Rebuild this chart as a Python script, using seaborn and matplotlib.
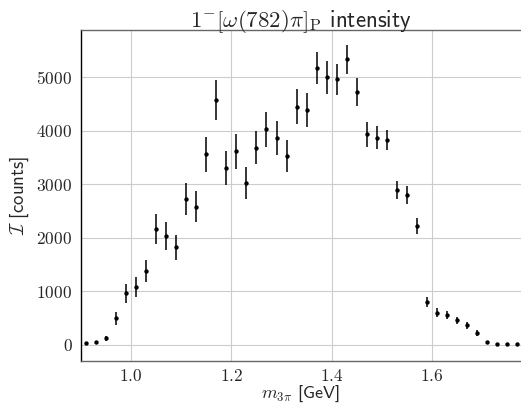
import numpy as np
import pandas as pd
import matplotlib
matplotlib.use("Agg")
import matplotlib.pyplot as plt
import seaborn as sns

# bin centres of the 3pi mass [GeV]
mass = [0.91, 0.93, 0.95, 0.97, 0.99, 1.01, 1.03, 1.05, 1.07, 1.09,
        1.11, 1.13, 1.15, 1.17, 1.19, 1.21, 1.23, 1.25, 1.27, 1.29,
        1.31, 1.33, 1.35, 1.37, 1.39, 1.41, 1.43, 1.45, 1.47, 1.49,
        1.51, 1.53, 1.55, 1.57, 1.59, 1.61, 1.63, 1.65, 1.67, 1.69,
        1.71, 1.73, 1.75, 1.77]

intensity = [26, 45, 120, 493, 961, 1084, 1378, 2163, 2032, 1821,
             2718, 2579, 3559, 4568, 3303, 3621, 3022, 3682, 4026, 3858,
             3527, 4449, 4387, 5166, 4998, 4961, 5335, 4723, 3938, 3869,
             3826, 2892, 2793, 2224, 793, 598, 550, 456, 363, 213,
             45, 8, 5, 5]

error = [20, 30, 50, 118, 181, 187, 206, 280, 262, 234,
         300, 293, 333, 374, 312, 327, 293, 312, 327, 318,
         305, 331, 318, 299, 308, 286, 265, 256, 234, 219,
         193, 168, 168, 150, 93, 84, 75, 70, 60, 55,
         25, 10, 5, 5]

xticks = [1.0, 1.2, 1.4, 1.6]
yticks = [0, 1000, 2000, 3000, 4000, 5000]

df = pd.DataFrame({"m": mass, "I": intensity, "err": error})

sns.set_style("whitegrid", {"grid.color": "#cccccc", "axes.edgecolor": "black"})
plt.rcParams["mathtext.fontset"] = "cm"
plt.rcParams["font.family"] = ["cmss10", "DejaVu Sans"]
plt.rcParams["axes.formatter.use_mathtext"] = True

fig = plt.figure(figsize=(5.21, 4.08), dpi=100)
ax = fig.add_axes([0.155, 0.115, 0.845, 0.8113])

ax.errorbar(df["m"], df["I"], yerr=df["err"], fmt="none", ecolor="black",
            elinewidth=1.1, capsize=0, zorder=3)
sns.scatterplot(data=df, x="m", y="I", color="black", s=10, linewidth=0,
                ax=ax, zorder=4)

ax.set_xlim(0.9, 1.777)
ax.set_ylim(-305, 5882)
ax.set_xticks(xticks)
ax.set_xticklabels([r"$%.1f$" % t for t in xticks])
ax.set_yticks(yticks)
ax.set_yticklabels([r"$%d$" % t for t in yticks])
ax.tick_params(axis="both", labelsize=12.5, length=3, width=1, color="#666666", pad=3)
ax.tick_params(axis="x", pad=2)

ax.set_xlabel(r"$m_{3\pi}$ [GeV]", fontsize=13, labelpad=0)
ax.set_ylabel(r"$\mathcal{I}$ [counts]", fontsize=13.5, labelpad=4)
ax.set_title(r"$1^{-}[\omega(782)\pi]_{\mathrm{P}}$ intensity", fontsize=16.5, pad=2)

ax.spines["left"].set_color("black")
for side in ["bottom", "top"]:
    ax.spines[side].set_color("#666666")
for side in ["left", "bottom", "top"]:
    ax.spines[side].set_linewidth(1.0)
ax.spines["right"].set_visible(False)

fig.savefig("out.png", dpi=100)
